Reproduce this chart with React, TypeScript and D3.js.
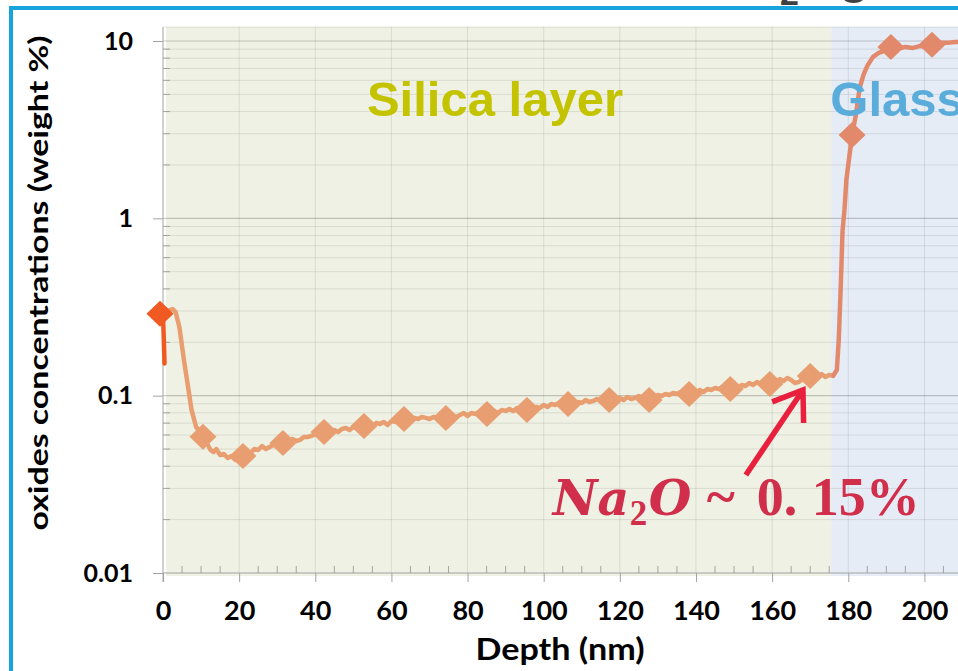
import { useEffect, useRef } from "react";
import * as d3 from "d3";

// Na2O profile (depth in nm, concentration in weight %)
const lineDepth = [
  0.9, 1.5, 2.5, 3.3, 4.3, 5.5, 6.5, 7.5, 8.7, 10, 10.5, 11.5, 12.5, 13.3, 14, 15, 16, 17, 18, 19,
  20, 21, 22, 23, 24, 25, 26, 27, 28, 29, 30, 31.5, 33, 34, 35, 36, 37, 38, 39, 40,
  41, 42.3, 44, 45, 46, 47, 48, 49, 50, 51, 52.8, 54, 55, 56, 57, 58, 59, 60, 61, 62,
  63.3, 65, 66, 67, 68, 69, 70, 71, 72, 74.3, 76, 77, 78, 79, 80, 81, 82, 83, 85.1, 86,
  87, 88, 89, 90, 91, 92, 93, 95.6, 97, 98, 99, 100, 101, 102, 103, 104, 106.4, 108, 109, 110,
  111, 112, 113, 114, 115, 117.2, 119, 120, 121, 122, 123, 124, 125, 127.7, 129, 130, 131, 132, 133, 134,
  135, 136, 138.2, 140, 141, 142, 143, 144, 145, 146, 147, 149, 151, 152, 153, 154, 155, 156, 157, 159.4,
  161, 162, 163, 164, 165, 166, 167, 168, 170, 172, 173, 174, 175, 176, 177, 177.5, 178, 178.5, 179, 179.5,
  180.5, 181, 182, 183, 184, 185, 186.5, 188, 189.5, 191.2, 193, 195, 197, 199, 200.5, 202, 204, 206, 208, 210,
  212,
];
const lineConc = [
  0.3, 0.302, 0.308, 0.297, 0.244, 0.159, 0.115, 0.0831, 0.0666, 0.0616, 0.0585, 0.0541, 0.0494, 0.0481, 0.05, 0.0463, 0.0469, 0.0445, 0.0457, 0.0434,
  0.0451, 0.0457, 0.0481, 0.0475, 0.05, 0.0494, 0.052, 0.05, 0.0514, 0.0527, 0.0534, 0.0541, 0.0555, 0.057, 0.0555, 0.0563, 0.0585, 0.0585, 0.0593, 0.0608,
  0.06, 0.0624, 0.0632, 0.0641, 0.0624, 0.0649, 0.0657, 0.0641, 0.0666, 0.0657, 0.0675, 0.0683, 0.0666, 0.0702, 0.0692, 0.0711, 0.0683, 0.072, 0.0711, 0.073,
  0.0739, 0.073, 0.0749, 0.0739, 0.0759, 0.0749, 0.0739, 0.0759, 0.0749, 0.0749, 0.0769, 0.0759, 0.0778, 0.0799, 0.0769, 0.0799, 0.0789, 0.0809, 0.0789, 0.0809,
  0.082, 0.0799, 0.0831, 0.082, 0.0841, 0.082, 0.0852, 0.0831, 0.0841, 0.0864, 0.0852, 0.0886, 0.0864, 0.0898, 0.0886, 0.091, 0.0898, 0.0886, 0.0921, 0.091,
  0.0946, 0.0921, 0.0934, 0.0958, 0.0934, 0.0946, 0.0958, 0.0971, 0.0946, 0.0983, 0.0958, 0.0971, 0.0996, 0.0946, 0.0983, 0.1009, 0.0996, 0.1022, 0.1009, 0.1036,
  0.1022, 0.1049, 0.1022, 0.1036, 0.1077, 0.1049, 0.1091, 0.1077, 0.1105, 0.1091, 0.112, 0.1091, 0.1105, 0.1149, 0.1134, 0.1179, 0.1149, 0.1195, 0.1164, 0.1164,
  0.1195, 0.1242, 0.121, 0.1258, 0.1226, 0.1179, 0.1195, 0.1242, 0.1275, 0.1292, 0.1326, 0.1275, 0.1309, 0.1292, 0.1396, 0.206, 0.395, 0.85, 1.115, 1.647,
  2.43, 2.95, 3.83, 5.44, 6.44, 7.24, 8.14, 8.57, 8.8, 9.26, 9.03, 9.26, 9.14, 9.38, 9.26, 9.51, 9.76, 9.76, 9.88, 9.88,
  10.0,
];

// diamonds on the profile
const markerDepth = [10.5, 21, 31.5, 42.3, 52.8, 63.3, 74.3, 85.1, 95.6, 106.4, 117.2, 127.7, 138.2, 149, 159.4, 170, 181, 191.2, 202];
const markerConc = [0.0587, 0.0457, 0.0541, 0.0624, 0.0675, 0.0739, 0.0749, 0.0789, 0.0831, 0.0898, 0.0946, 0.0946, 0.1022, 0.1091, 0.1164, 0.129, 2.95, 9.26, 9.51];

// surface point (other series)
const surfaceDepth = [0, 0.4];
const surfaceConc = [0.29, 0.152];

const xTicks = [0, 20, 40, 60, 80, 100, 120, 140, 160, 180, 200, 220];
const xMinorTicks = d3.range(5, 225, 5).filter((d) => d % 20 !== 0);
const yTicks = [0.01, 0.1, 1, 10];
const yTickLabels = ["0.01", "0.1", "1", "10"];

const regionNames = ["Silica layer", "Glass"];
const regionStart = [0.8, 175.5];
const regionEnd = [175.5, 240];
const regionLabelDepth = [87.2, 175.3];

const NaProfile = () => {
  const chartRef = useRef(null);

  useEffect(() => {
    const width = 958;
    const height = 671;

    const root = d3.select(chartRef.current);
    root.selectAll("*").remove();

    const svg = root
      .append("svg")
      .attr("width", width)
      .attr("height", height)
      .style("display", "block")
      .style("background", "#ffffff");

    const x = d3.scaleLinear().domain([0, 220]).range([163, 163 + 220 * 3.807]);
    const y = d3.scaleLog().domain([0.01, 10]).range([573, 41]);
    const plotTop = 27;
    const plotBottom = y(0.01);
    const plotLeft = x(0);
    const plotRight = x(220);

    const labelFont = "Lato, 'Open Sans', sans-serif";

    // slide title, mostly outside the picture
    const title = svg
      .append("text")
      .attr("y", -7)
      .attr("fill", "#404040")
      .attr("font-family", "'Liberation Sans', Arial, sans-serif")
      .attr("font-weight", "bold")
      .attr("font-size", 50);
    title.append("tspan").attr("x", 694).text("SiO");
    title.append("tspan").attr("x", 780).attr("dy", 12).attr("font-size", 34).text("2");
    title.append("tspan").attr("x", 839).attr("dy", -12).text("glass");

    // blue frame
    svg
      .append("rect")
      .attr("x", 11)
      .attr("y", 8)
      .attr("width", 2000)
      .attr("height", 2000)
      .attr("fill", "none")
      .attr("stroke", "#17a4dc")
      .attr("stroke-width", 4);

    // layer backgrounds
    const regionFill = ["#eef1e3", "#e6ecf5"];
    svg
      .append("g")
      .selectAll("rect")
      .data(regionNames)
      .join("rect")
      .attr("x", (_, i) => x(regionStart[i]))
      .attr("y", plotTop)
      .attr("width", (_, i) => x(regionEnd[i]) - x(regionStart[i]))
      .attr("height", plotBottom + 3 - plotTop)
      .attr("fill", (_, i) => regionFill[i]);

    // gridlines
    const minorVals = [];
    [0.01, 0.1, 1].forEach((dec) => {
      for (let k = 2; k <= 9; k++) minorVals.push(dec * k);
    });
    const grid = svg.append("g");
    grid
      .selectAll("line.minor")
      .data(minorVals)
      .join("line")
      .attr("class", "minor")
      .attr("x1", plotLeft)
      .attr("x2", plotRight)
      .attr("y1", (d) => y(d))
      .attr("y2", (d) => y(d))
      .attr("stroke", "rgba(0,0,0,0.09)");
    grid
      .selectAll("line.major")
      .data(yTicks.slice(1))
      .join("line")
      .attr("class", "major")
      .attr("x1", plotLeft)
      .attr("x2", plotRight)
      .attr("y1", (d) => y(d))
      .attr("y2", (d) => y(d))
      .attr("stroke", "rgba(0,0,0,0.2)")
      .attr("stroke-width", 1.2);
    grid
      .selectAll("line.vert")
      .data(xTicks.slice(1))
      .join("line")
      .attr("class", "vert")
      .attr("x1", (d) => x(d))
      .attr("x2", (d) => x(d))
      .attr("y1", plotTop)
      .attr("y2", plotBottom)
      .attr("stroke", "rgba(0,0,0,0.09)");
    grid
      .append("line")
      .attr("x1", plotLeft)
      .attr("x2", plotRight)
      .attr("y1", plotTop)
      .attr("y2", plotTop)
      .attr("stroke", "rgba(0,0,0,0.1)");

    // axes
    const axisColor = "#a3a3a3";
    const xAxis = d3
      .axisBottom(x)
      .tickValues(xTicks)
      .tickFormat(d3.format("d"))
      .tickSize(9)
      .tickSizeOuter(0)
      .tickPadding(19);
    const gx = svg.append("g").attr("transform", `translate(0, ${plotBottom})`).call(xAxis);
    const yAxis = d3
      .axisLeft(y)
      .tickValues(yTicks)
      .tickFormat((_, i) => yTickLabels[i])
      .tickSize(10)
      .tickSizeOuter(0)
      .tickPadding(20);
    const gy = svg.append("g").attr("transform", `translate(${plotLeft}, 0)`).call(yAxis);

    [gx, gy].forEach((g) => {
      g.select(".domain").remove();
      g.selectAll(".tick line").attr("stroke", axisColor);
      g.selectAll(".tick text")
        .attr("fill", "#000")
        .attr("font-family", labelFont)
        .attr("font-weight", "bold");
    });
    gx.selectAll(".tick text").attr("font-size", 27);
    gy.selectAll(".tick text").attr("font-size", 25);

    svg
      .append("line")
      .attr("x1", plotLeft)
      .attr("x2", plotRight)
      .attr("y1", plotBottom)
      .attr("y2", plotBottom)
      .attr("stroke", axisColor);
    svg
      .append("line")
      .attr("x1", plotLeft)
      .attr("x2", plotLeft)
      .attr("y1", plotTop)
      .attr("y2", plotBottom + 9)
      .attr("stroke", axisColor);

    // minor ticks (inside)
    svg
      .append("g")
      .selectAll("line")
      .data(xMinorTicks)
      .join("line")
      .attr("x1", (d) => x(d))
      .attr("x2", (d) => x(d))
      .attr("y1", plotBottom - 7)
      .attr("y2", plotBottom)
      .attr("stroke", axisColor);
    svg
      .append("g")
      .selectAll("line")
      .data(minorVals)
      .join("line")
      .attr("x1", plotLeft)
      .attr("x2", plotLeft + 7)
      .attr("y1", (d) => y(d))
      .attr("y2", (d) => y(d))
      .attr("stroke", axisColor);

    // profile line and markers, coloured per layer
    const defs = svg.append("defs");
    regionNames.forEach((_, i) => {
      defs
        .append("clipPath")
        .attr("id", `clip-region-${i}`)
        .append("rect")
        .attr("x", i === 0 ? 0 : x(regionStart[i]))
        .attr("y", 0)
        .attr("width", i === 0 ? x(regionEnd[i]) : 2000)
        .attr("height", height);
    });

    const profile = lineDepth.map((d, i) => [d, lineConc[i]]);
    const markers = markerDepth.map((d, i) => [d, markerConc[i]]);
    const line = d3
      .line()
      .x((d) => x(d[0]))
      .y((d) => y(d[1]));
    const diamond = "M0,-13L13.5,0L0,13L-13.5,0Z";
    const lineColor = ["#e89e70", "#e2896c"];

    regionNames.forEach((_, i) => {
      const g = svg.append("g").attr("clip-path", `url(#clip-region-${i})`);
      g.append("path")
        .datum(profile)
        .attr("d", line)
        .attr("fill", "none")
        .attr("stroke", lineColor[i])
        .attr("stroke-width", 4.5)
        .attr("stroke-linejoin", "round");
      g.selectAll("path.marker")
        .data(markers)
        .join("path")
        .attr("class", "marker")
        .attr("d", diamond)
        .attr("transform", (d) => `translate(${x(d[0])}, ${y(d[1])})`)
        .attr("fill", lineColor[i]);
    });

    const surface = surfaceDepth.map((d, i) => [d, surfaceConc[i]]);
    svg
      .append("path")
      .datum(surface)
      .attr("d", line)
      .attr("fill", "none")
      .attr("stroke", "#f05a22")
      .attr("stroke-width", 4.5)
      .attr("stroke-linecap", "round");
    svg
      .append("path")
      .attr("d", diamond)
      .attr("transform", `translate(${x(surface[0][0]) - 3}, ${y(surface[0][1])})`)
      .attr("fill", "#f05a22");

    // layer labels
    const regionColor = ["#c3c300", "#5aacdb"];
    const regionAnchor = ["middle", "start"];
    svg
      .append("g")
      .selectAll("text")
      .data(regionNames)
      .join("text")
      .attr("x", (_, i) => x(regionLabelDepth[i]))
      .attr("y", 116)
      .attr("text-anchor", (_, i) => regionAnchor[i])
      .attr("fill", (_, i) => regionColor[i])
      .attr("font-family", "'Liberation Sans', Arial, sans-serif")
      .attr("font-weight", "bold")
      .attr("font-size", 49)
      .text((d) => d);

    // annotation arrow
    const tail = [x(153.1), y(0.0357)];
    const tip = [x(168.1), y(0.1077)];
    const len = Math.hypot(tip[0] - tail[0], tip[1] - tail[1]);
    const ux = (tail[0] - tip[0]) / len;
    const uy = (tail[1] - tip[1]) / len;
    const arm = (a) => [
      tip[0] + 33 * (ux * Math.cos(a) - uy * Math.sin(a)),
      tip[1] + 33 * (ux * Math.sin(a) + uy * Math.cos(a)),
    ];
    const a1 = arm((35 * Math.PI) / 180);
    const a2 = arm((-35 * Math.PI) / 180);
    svg
      .append("path")
      .attr("d", `M${tail[0]},${tail[1]}L${tip[0]},${tip[1]}M${a1[0]},${a1[1]}L${tip[0]},${tip[1]}L${a2[0]},${a2[1]}`)
      .attr("fill", "none")
      .attr("stroke", "#e8203e")
      .attr("stroke-width", 5.5)
      .attr("stroke-linejoin", "miter");

    // annotation text
    const nx = x(102.4);
    const italicFont = "'DejaVu Serif', 'Liberation Serif', serif";
    const note = svg
      .append("text")
      .attr("x", nx)
      .attr("y", y(0.0212))
      .attr("fill", "#d02e4a")
      .attr("font-family", "'Liberation Serif', 'DejaVu Serif', serif")
      .attr("font-weight", "bold")
      .attr("font-size", 54);
    note.append("tspan").attr("x", nx).attr("font-family", italicFont).attr("font-size", 49).attr("font-style", "italic").text("Na");
    note.append("tspan").attr("x", nx + 77).attr("dy", 10).attr("font-size", 35).text("2");
    note.append("tspan").attr("x", nx + 96).attr("dy", -10).attr("font-family", italicFont).attr("font-size", 49).attr("font-style", "italic").text("O");
    note.append("tspan").attr("x", nx + 154).text("~");
    note.append("tspan").attr("x", nx + 204).text("0.");
    note.append("tspan").attr("x", nx + 259).text("15%");

    // axis titles
    svg
      .append("text")
      .attr("transform", "translate(48, 283) rotate(-90)")
      .attr("text-anchor", "middle")
      .attr("font-family", labelFont)
      .attr("font-weight", "bold")
      .attr("font-size", 27)
      .attr("textLength", 495)
      .attr("lengthAdjust", "spacingAndGlyphs")
      .text("oxides concentrations (weight %)");
    svg
      .append("text")
      .attr("x", 560)
      .attr("y", 660)
      .attr("text-anchor", "middle")
      .attr("font-family", labelFont)
      .attr("font-weight", "bold")
      .attr("font-size", 31)
      .attr("textLength", 169)
      .attr("lengthAdjust", "spacingAndGlyphs")
      .text("Depth (nm)");
  }, []);

  return <div ref={chartRef} style={{ position: "absolute", left: 0, top: 0 }} />;
};

export default NaProfile;
